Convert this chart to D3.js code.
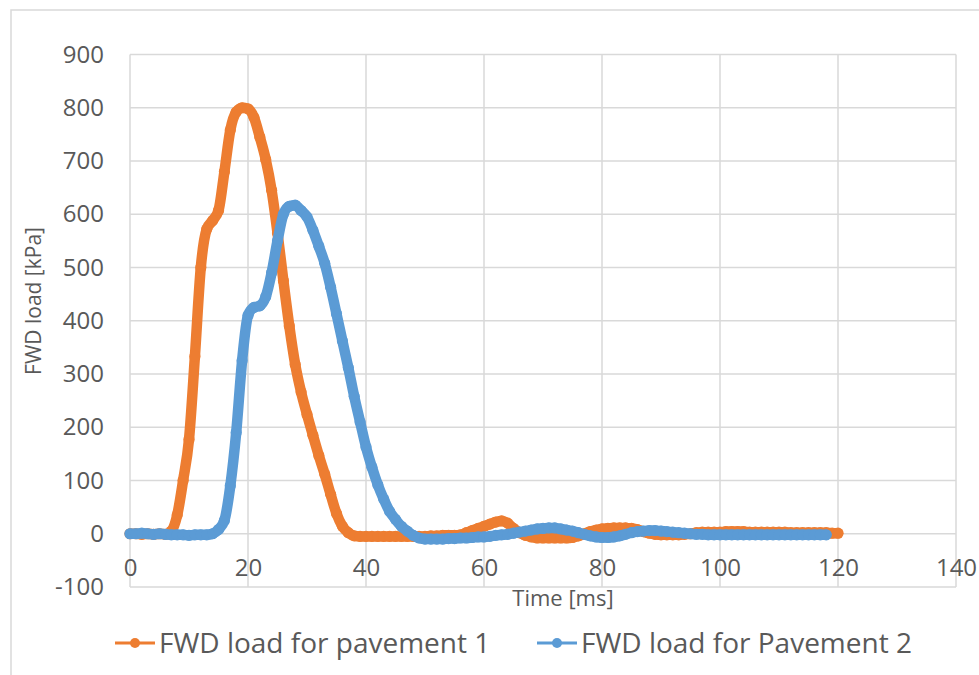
<!DOCTYPE html>
<html>
<head>
<meta charset="utf-8">
<script src="https://cdn.jsdelivr.net/npm/d3@7"></script>
<style>
  body { margin: 0; background: #fff; }
  svg text { font-family: "Open Sans", "Liberation Sans", sans-serif; fill: #595959; }
</style>
</head>
<body>
<div id="chart"></div>
<script>
// time axis in ms (one sample per ms)
const timeMs = [0,1,2,3,4,5,6,7,8,9,10,11,12,13,14,15,16,17,18,19,20,21,22,23,24,25,26,27,28,29,
  30,31,32,33,34,35,36,37,38,39,40,41,42,43,44,45,46,47,48,49,50,51,52,53,54,55,56,57,58,59,
  60,61,62,63,64,65,66,67,68,69,70,71,72,73,74,75,76,77,78,79,80,81,82,83,84,85,86,87,88,89,
  90,91,92,93,94,95,96,97,98,99,100,101,102,103,104,105,106,107,108,109,110,111,112,113,114,115,116,117,118,119,120];

// FWD load [kPa], pavement 1 (t = 0..120)
const loadPavement1 = [0,0,-1,0,-1,0,-1,5,35,100,177,333,500,572,588,607,680,758,792,800,
  798,782,745,703,645,565,475,390,318,266,224,185,147,112,74,38,14,2,-4,-5,
  -5,-5,-5,-5,-5,-5,-5,-5,-5,-5,-5,-4,-4,-3,-3,-3,-2,2,6,10,
  14,18,22,24,20,10,2,-3,-6,-8,-8,-8,-8,-8,-8,-7,-4,0,4,7,
  9,10,11,11,11,10,8,4,1,-1,-2,-2,-2,-2,-1,0,2,3,3,3,
  3,4,4,4,4,3,3,3,3,3,3,3,2,2,2,2,2,2,2,1,1];

// FWD load [kPa], pavement 2 (t = 0..118)
const loadPavement2 = [0,0,1,0,-1,0,-1,-2,-2,-2,-3,-2,-2,-2,0,8,25,90,190,325,
  410,425,428,445,490,550,600,615,617,607,595,570,540,508,463,413,362,312,258,210,
  163,125,92,65,42,27,14,5,-3,-8,-10,-10,-10,-10,-9,-9,-8,-8,-7,-6,
  -6,-5,-3,-2,-1,1,3,5,7,9,10,11,11,9,7,5,2,-1,-4,-6,
  -7,-7,-6,-4,-1,2,4,5,6,6,5,4,3,2,1,0,-1,-1,-2,-2,
  -2,-2,-2,-2,-2,-2,-2,-2,-2,-2,-2,-2,-2,-2,-2,-2,-2,-2,-2];

const seriesNames = ['FWD load for pavement 1', 'FWD load for Pavement 2'];
const seriesColors = ['#ED7D31', '#5B9BD5'];
const xTicks = [0, 20, 40, 60, 80, 100, 120, 140];
const yTicks = [-100, 0, 100, 200, 300, 400, 500, 600, 700, 800, 900];

const width = 979, height = 675;

const svg = d3.select('#chart').append('svg')
  .attr('width', width)
  .attr('height', height);

// outer chart border
svg.append('rect')
  .attr('x', 11).attr('y', 10)
  .attr('width', 1000).attr('height', 700)
  .attr('fill', 'none')
  .attr('stroke', '#d9d9d9')
  .attr('stroke-width', 1.5);

const x = d3.scaleLinear().domain([0, 140]).range([130, 956]);
const y = d3.scaleLinear().domain([-100, 900]).range([587, 54.5]);

// grid
svg.append('g')
  .selectAll('line.h')
  .data(yTicks)
  .join('line')
  .attr('x1', x(0)).attr('x2', x(140))
  .attr('y1', d => y(d)).attr('y2', d => y(d))
  .attr('stroke', '#d9d9d9').attr('stroke-width', 1.5);

svg.append('g')
  .selectAll('line.v')
  .data(xTicks)
  .join('line')
  .attr('x1', d => x(d)).attr('x2', d => x(d))
  .attr('y1', y(900)).attr('y2', y(-100))
  .attr('stroke', '#d9d9d9').attr('stroke-width', 1.5);

// y axis labels
const yAxis = svg.append('g')
  .attr('transform', `translate(${x(0)},0)`)
  .call(d3.axisLeft(y).tickValues(yTicks).tickFormat(d => String(d)).tickSize(0).tickPadding(26));
yAxis.select('.domain').remove();
yAxis.selectAll('text')
  .style('font-size', '24px')
  .attr('fill', '#595959');

// x axis labels sit under the zero line
const xAxis = svg.append('g')
  .attr('transform', `translate(0,${y(0)})`)
  .call(d3.axisBottom(x).tickValues(xTicks).tickFormat(d => String(d)).tickSize(0));
xAxis.select('.domain').remove();
xAxis.selectAll('text')
  .attr('y', 34)
  .attr('dy', '0.35em')
  .style('font-size', '24px')
  .attr('fill', '#595959');

// axis titles
svg.append('text')
  .attr('x', 563).attr('y', 600)
  .attr('text-anchor', 'middle')
  .attr('dominant-baseline', 'middle')
  .style('font-size', '22px')
  .text('Time [ms]');

svg.append('text')
  .attr('transform', 'translate(35,301) rotate(-90)')
  .attr('text-anchor', 'middle')
  .attr('dominant-baseline', 'middle')
  .style('font-size', '21px')
  .text('FWD load [kPa]');

// series
const series = [
  timeMs.map((t, i) => ({ t: t, v: loadPavement1[i] })),
  timeMs.slice(0, loadPavement2.length).map((t, i) => ({ t: t, v: loadPavement2[i] }))
];

const line = d3.line()
  .x(d => x(d.t))
  .y(d => y(d.v))
  .curve(d3.curveMonotoneX);

series.forEach((data, k) => {
  const g = svg.append('g');
  g.append('path')
    .datum(data)
    .attr('d', line)
    .attr('fill', 'none')
    .attr('stroke', seriesColors[k])
    .attr('stroke-width', 10.5)
    .attr('stroke-linejoin', 'round')
    .attr('stroke-linecap', 'round');
  g.selectAll('circle')
    .data(data)
    .join('circle')
    .attr('cx', d => x(d.t))
    .attr('cy', d => y(d.v))
    .attr('r', 5.6)
    .attr('fill', seriesColors[k]);
});

// legend
const legendX = [115, 537];
const legend = svg.append('g');
seriesNames.forEach((name, k) => {
  const lg = legend.append('g').attr('transform', `translate(${legendX[k]},643)`);
  lg.append('line')
    .attr('x1', 0).attr('x2', 40)
    .attr('stroke', seriesColors[k]).attr('stroke-width', 3);
  lg.append('circle')
    .attr('cx', 20).attr('r', 5)
    .attr('fill', seriesColors[k]);
  lg.append('text')
    .attr('x', 44).attr('y', 10)
    .style('font-size', '28px')
    .text(name);
});
</script>
</body>
</html>
